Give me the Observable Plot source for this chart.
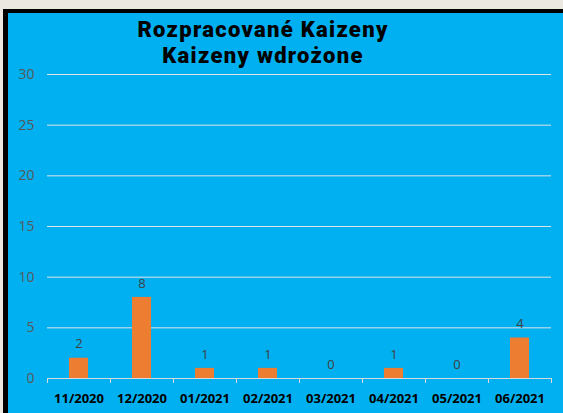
<!DOCTYPE html>
<html>
<head>
<meta charset="utf-8">
<script src="https://cdn.jsdelivr.net/npm/d3@7"></script>
<script src="https://cdn.jsdelivr.net/npm/@observablehq/plot@0.6"></script>
<style>
  html, body { margin: 0; padding: 0; background: #eae8e0; width: 563px; height: 413px; overflow: hidden; }
  #frame { position: absolute; left: 3px; top: 9px; width: 560px; height: 404px; border-left: 5px solid #000; border-top: 4px solid #000; background: #00b0f0; box-sizing: border-box; }
  #title { position: absolute; left: 0; top: 4px; width: 510px; text-align: center; font-family: Roboto, "Open Sans", sans-serif; font-weight: 900; font-size: 22px; letter-spacing: 1.3px; color: #000; z-index: 2; }
  #title div { line-height: 26px; height: 26px; }
  #chart { position: absolute; left: 0; top: 0; }
</style>
</head>
<body>
<div id="frame">
  <div id="title"><div>Rozpracované Kaizeny</div><div>Kaizeny wdrożone</div></div>
  <div id="chart"></div>
</div>
<script>
const months = ["11/2020", "12/2020", "01/2021", "02/2021", "03/2021", "04/2021", "05/2021", "06/2021"];
const counts = [2, 8, 1, 1, 0, 1, 0, 4];
const yTicks = [0, 5, 10, 15, 20, 25, 30];

const data = months.map((m, i) => ({month: m, count: counts[i]}));
const step = (555 - 39 - 12) / months.length;

const chart = Plot.plot({
  width: 555,
  height: 400,
  marginLeft: 39,
  marginRight: 12,
  marginTop: 61,
  marginBottom: 35,
  style: {background: "transparent", fontFamily: "'Open Sans', sans-serif", overflow: "visible"},
  x: {domain: months, padding: 0, label: null},
  y: {domain: [0, 30], label: null},
  marks: [
    Plot.ruleY(yTicks.filter(d => d > 0), {stroke: "#e3e3e3", strokeWidth: 1}),
    Plot.ruleY([0], {stroke: "#d9d9d9", strokeWidth: 1}),
    Plot.barY(data, {x: "month", y: "count", fill: "#ed7d31", insetLeft: 22, insetRight: 22}),
    Plot.text(data, {x: "month", y: "count", text: d => String(d.count), dy: -14, fill: "#404040", fontSize: 13}),
    Plot.axisY({ticks: yTicks, tickSize: 0, tickPadding: 13, fill: "#595959", fontSize: 14, label: null}),
    Plot.axisX({tickSize: 5, tickFormat: () => "", dx: -step / 2, stroke: "#d9d9d9", label: null}),
    Plot.axisX({ticks: [months[months.length - 1]], tickSize: 5, tickFormat: () => "", dx: step / 2, stroke: "#d9d9d9", label: null}),
    Plot.axisX({tickSize: 0, tickPadding: 15, fill: "#000", fontWeight: "bold", fontSize: 13, label: null})
  ]
});
document.getElementById("chart").appendChild(chart);
</script>
</body>
</html>
